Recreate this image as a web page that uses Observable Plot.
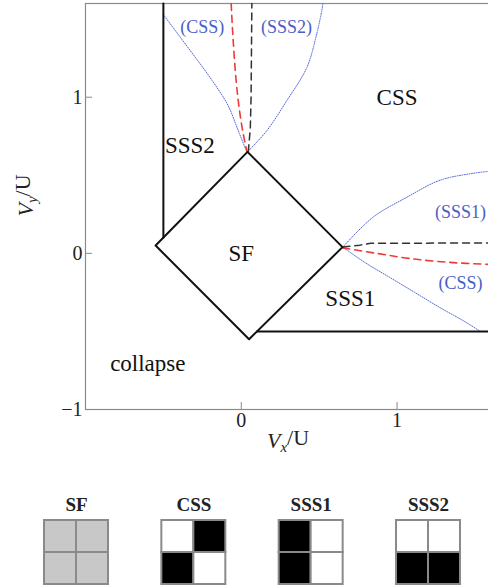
<!DOCTYPE html>
<html><head><meta charset="utf-8">
<script src="https://cdn.jsdelivr.net/npm/d3@7"></script>
<script src="https://cdn.jsdelivr.net/npm/@observablehq/plot@0.6"></script>
<style>
body{margin:0;background:#fff;}
#chart svg{display:block;overflow:hidden;}
</style>
</head><body><div id="chart"></div>
<script>
// ---- data ----
const xTicks = [0, 1];
const yTicks = [-1, 0, 1];
const sfDiamond = [[0.04,0.65],[-0.55,0.05],[0.05,-0.55],[0.65,0.04],[0.04,0.65]];
const sss2Boundary = [[-0.5,1.6],[-0.5,0.1]];
const sss1Boundary = [[0.1,-0.5],[1.6,-0.5]];
const blueUpperLeft = [[-0.501,1.53],[-0.328,1.299],[-0.187,1.107],[-0.085,0.947],[-0.02,0.787],[0.035,0.65]];
const blueUpperRight = [[0.04,0.65],[0.165,0.787],[0.293,0.979],[0.421,1.19],[0.485,1.408],[0.517,1.555],[0.524,1.6]];
const blueRightUpper = [[0.652,0.04],[0.844,0.23],[1.061,0.358],[1.273,0.467],[1.484,0.512],[1.6,0.526]];
const blueRightLower = [[0.652,0.04],[0.793,-0.058],[0.953,-0.154],[1.113,-0.25],[1.273,-0.346],[1.433,-0.436],[1.535,-0.5]];
const redUpper = [[-0.065,1.6],[-0.052,1.363],[-0.033,1.107],[-0.014,0.934],[0.012,0.768],[0.037,0.65]];
const blackUpper = [[0.045,0.65],[0.058,0.8],[0.063,1.0],[0.068,1.6]];
const redRight = [[0.652,0.035],[0.869,0.0],[1.081,-0.033],[1.337,-0.058],[1.6,-0.071]];
const blackRight = [[0.652,0.04],[0.76,0.052],[0.83,0.064],[1.6,0.067]];
const phaseLabels = [
  {x:1.0, y:1.0, t:"CSS"},
  {x:-0.33, y:0.69, t:"SSS2"},
  {x:0.0, y:0.0, t:"SF"},
  {x:0.70, y:-0.29, t:"SSS1"},
  {x:-0.60, y:-0.705, t:"collapse"}
];
const blueLabels = [
  {x:-0.25, y:1.446, t:"(CSS)"},
  {x:0.29, y:1.446, t:"(SSS2)"},
  {x:1.407, y:0.262, t:"(SSS1)"},
  {x:1.407, y:-0.193, t:"(CSS)"}
];
const states = ["SF","CSS","SSS1","SSS2"];
// cells: top-left, top-right, bottom-left, bottom-right
const sfCells   = ["#c8c8c8","#c8c8c8","#c8c8c8","#c8c8c8"];
const cssCells  = ["#ffffff","#000000","#000000","#ffffff"];
const sss1Cells = ["#000000","#ffffff","#000000","#ffffff"];
const sss2Cells = ["#ffffff","#ffffff","#000000","#000000"];
const cellPatterns = [sfCells, cssCells, sss1Cells, sss2Cells];

const font = "Liberation Serif, Times New Roman, serif";
const blue = "#4a60c8";
const solid = {stroke:"#111", strokeWidth:2};
const dotted = {stroke:"#5468d4", strokeWidth:1, strokeDasharray:"1,1.4", curve:"catmull-rom"};
const redDash = {stroke:"#ee3a3a", strokeWidth:1.6, strokeDasharray:"7,5", curve:"catmull-rom"};
const blackDash = {stroke:"#333", strokeWidth:1.5, strokeDasharray:"7,5"};
const fmt = d => d < 0 ? "\u2212" + Math.abs(d) : String(d);

const main = Plot.plot({
  width: 488, height: 465,
  marginLeft: 85, marginRight: -2, marginTop: 3, marginBottom: 56,
  x: {domain: [-1, 1.6]},
  y: {domain: [-1, 1.6]},
  style: {fontFamily: font, fontSize: "20px", color: "#222", background: "#fff"},
  marks: [
    Plot.frame({stroke: "#8a8a8a", strokeWidth: 1.2}),
    Plot.axisX({ticks: xTicks, tickFormat: fmt, tickSize: -7, tickPadding: 10, label: null, stroke: "#8a8a8a", fill: "#222", fontSize: 20, fontFamily: font}),
    Plot.axisY({ticks: yTicks, tickFormat: fmt, tickSize: -7, tickPadding: 10, label: null, stroke: "#8a8a8a", fill: "#222", fontSize: 20, fontFamily: font}),
    Plot.line(blueUpperLeft, {x: d=>d[0], y: d=>d[1], ...dotted}),
    Plot.line(blueUpperRight, {x: d=>d[0], y: d=>d[1], ...dotted}),
    Plot.line(blueRightUpper, {x: d=>d[0], y: d=>d[1], ...dotted}),
    Plot.line(blueRightLower, {x: d=>d[0], y: d=>d[1], ...dotted}),
    Plot.line(redUpper, {x: d=>d[0], y: d=>d[1], ...redDash}),
    Plot.line(blackUpper, {x: d=>d[0], y: d=>d[1], ...blackDash}),
    Plot.line(redRight, {x: d=>d[0], y: d=>d[1], ...redDash}),
    Plot.line(blackRight, {x: d=>d[0], y: d=>d[1], ...blackDash}),
    Plot.line(sfDiamond, {x: d=>d[0], y: d=>d[1], ...solid}),
    Plot.line(sss2Boundary, {x: d=>d[0], y: d=>d[1], ...solid}),
    Plot.line(sss1Boundary, {x: d=>d[0], y: d=>d[1], ...solid}),
    Plot.text(phaseLabels, {x: "x", y: "y", text: "t", fontSize: 23, fill: "#111", fontFamily: font}),
    Plot.text(blueLabels, {x: "x", y: "y", text: "t", fontSize: 18, fill: blue, fontFamily: font}),
    Plot.text(["XLABEL"], {frameAnchor: "bottom", dy: 38, fontSize: 22, fill: "#222", fontFamily: font}),
    Plot.text(["YLABEL"], {frameAnchor: "left", dx: -60, dy: 10, rotate: -90, fontSize: 22, fill: "#222", fontFamily: font})
  ]
});

// rich axis labels (italic V with subscript)
d3.select(main).selectAll("text").each(function(){
  const t = d3.select(this);
  const s = t.text();
  if (s === "XLABEL" || s === "YLABEL") {
    const sub = s === "XLABEL" ? "x" : "y";
    t.text(null);
    t.append("tspan").attr("font-style","italic").text("V");
    t.append("tspan").attr("font-style","italic").attr("font-size","15").attr("dy","0.3em").text(sub);
    t.append("tspan").attr("dy","-0.3em").text("/U");
  }
});

// bottom panel: configuration squares
const cellW = 0.2727;
const cells = states.flatMap((s, i) => cellPatterns[i].map((c, k) => ({i, col: k % 2, row: Math.floor(k / 2), c})));
const legend = Plot.plot({
  width: 488, height: 123,
  marginLeft: 0, marginRight: 0, marginTop: 0, marginBottom: 0,
  x: {domain: [0, 3], range: [76, 428], axis: null},
  y: {type: "band", domain: [0, 1], range: [55, 119], padding: 0, axis: null},
  style: {fontFamily: font, background: "#fff"},
  marks: [
    Plot.barX(cells, {x1: d => d.i - cellW + d.col * cellW, x2: d => d.i + d.col * cellW, y: "row", fill: "c", stroke: "#8a8a8a", strokeWidth: 2}),
    Plot.text(states, {x: (d, i) => i, text: d => d, frameAnchor: "top", dy: 32, fontSize: 19, fontWeight: "bold", fill: "#222", fontFamily: font})
  ]
});

const el = document.getElementById("chart");
el.append(main, legend);
</script>
</body></html>
